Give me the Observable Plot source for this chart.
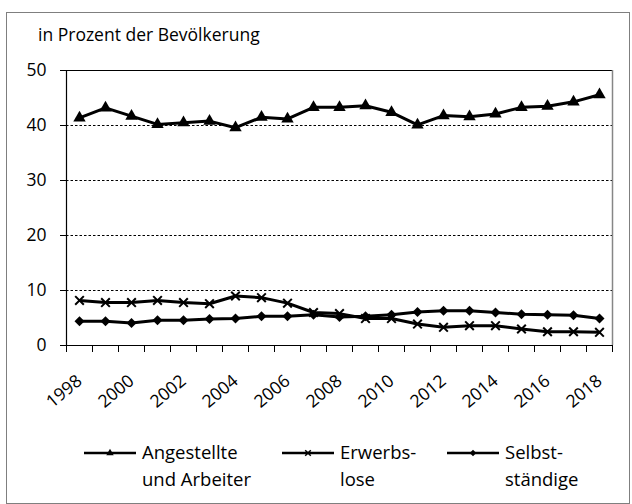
<!DOCTYPE html>
<html><head><meta charset="utf-8">
<script src="https://cdn.jsdelivr.net/npm/d3@7"></script>
<script src="https://cdn.jsdelivr.net/npm/@observablehq/plot@0.6"></script>
<style>
body{margin:0;background:#fff;}
#wrap{position:relative;width:632px;height:504px;overflow:hidden;font-family:"Open Sans",sans-serif;color:#000;}
#frame{position:absolute;left:6px;top:12px;width:624px;height:492px;border:1px solid #7f7f7f;box-sizing:border-box;}
#title{position:absolute;left:38px;top:26px;font-size:17.5px;line-height:1;white-space:nowrap;}
#chart{position:absolute;left:0;top:0;}
.leg{position:absolute;top:438px;font-size:18.5px;line-height:27px;white-space:nowrap;}
.legsym{position:absolute;top:438px;}
</style></head>
<body>
<div id="wrap">
  <div id="frame"></div>
  <div id="title"></div>
  <div id="chart"></div>
</div>
<script>
const title = "in Prozent der Bevölkerung";
const years = [1998,1999,2000,2001,2002,2003,2004,2005,2006,2007,2008,2009,2010,2011,2012,2013,2014,2015,2016,2017,2018];
const labelYears = [1998,2000,2002,2004,2006,2008,2010,2012,2014,2016,2018];
const yTicks = [0,10,20,30,40,50];
const gridValues = [10,20,30,40];
const seriesNames = ["Angestellte und Arbeiter","Erwerbslose","Selbstständige"];
const legendLabels = [["Angestellte","und Arbeiter"],["Erwerbs-","lose"],["Selbst-","ständige"]];
const angestellte = [41.4,43.2,41.7,40.2,40.5,40.8,39.6,41.5,41.2,43.3,43.3,43.6,42.4,40.1,41.8,41.6,42.1,43.3,43.5,44.3,45.6];
const erwerbslose = [8.2,7.8,7.8,8.2,7.8,7.6,9.0,8.7,7.7,6.0,5.8,4.9,4.9,3.9,3.3,3.6,3.6,3.0,2.5,2.5,2.4];
const selbststaendige = [4.4,4.4,4.1,4.6,4.6,4.8,4.9,5.3,5.3,5.6,5.2,5.3,5.6,6.1,6.3,6.3,6.0,5.7,5.6,5.5,4.9];

const seriesValues = [angestellte, erwerbslose, selbststaendige];
const data = seriesNames.flatMap((s, k) => years.map((y, i) => ({year: y, value: seriesValues[k][i], series: s})));
const bySeries = k => data.filter(d => d.series === seriesNames[k]);
const edges = [years[0] - 0.5, ...years.map(y => y + 0.5)];

document.getElementById("title").textContent = title;

const fs = 17.5;
const chart = Plot.plot({
  width: 632, height: 420,
  marginLeft: 66, marginRight: 20, marginTop: 70, marginBottom: 75,
  x: {type: "linear", domain: [edges[0], edges[edges.length - 1]], label: null},
  y: {domain: [0, 50], label: null},
  style: {fontFamily: "'Open Sans', sans-serif", fontSize: fs + "px", color: "#000", background: "transparent", overflow: "visible"},
  marks: [
    Plot.ruleY(gridValues, {stroke: "#000", strokeDasharray: "2.5,2", strokeWidth: 1}),
    Plot.ruleY([50], {stroke: "#000", strokeWidth: 1}),
    Plot.ruleX([edges[edges.length - 1]], {y1: 0, y2: 50, stroke: "#868686", strokeWidth: 1.5}),
    Plot.ruleX([edges[0]], {y1: 0, y2: 50, stroke: "#000", strokeWidth: 1.2}),
    Plot.ruleY([0], {stroke: "#000", strokeWidth: 1.2}),
    Plot.axisY({ticks: yTicks, tickSize: 6, tickPadding: 14, fontSize: fs, label: null, tickFormat: d => String(d)}),
    Plot.axisX({ticks: edges, tickSize: 7, label: null, tickFormat: () => ""}),
    Plot.axisX({ticks: labelYears, tickSize: 0, tickRotate: -40, tickPadding: 33, fontSize: fs, label: null, tickFormat: d => String(d)}),
    Plot.line(data, {x: "year", y: "value", z: "series", stroke: "#000", strokeWidth: 3}),
    Plot.dot(bySeries(0), {x: "year", y: "value", symbol: "triangle", r: 4.6, fill: "#000", stroke: "none"}),
    Plot.dot(bySeries(2), {x: "year", y: "value", symbol: "diamond2", r: 4.5, fill: "#000", stroke: "none"}),
    Plot.dot(bySeries(1), {x: "year", y: "value", symbol: "times", r: 4, stroke: "#000", strokeWidth: 2, fill: "none"})
  ]
});
document.getElementById("chart").appendChild(chart);

// Legend
const legendLeft = [84, 282, 447];
const legendSymbols = [
  {type: d3.symbolTriangle, size: 24, fill: true},
  {type: d3.symbolTimes, size: 22, fill: false},
  {type: d3.symbolDiamond2, size: 28, fill: true}
];
const wrap = document.getElementById("wrap");
legendLabels.forEach((lines, k) => {
  const svg = d3.create("svg").attr("class", "legsym").attr("width", 52).attr("height", 27)
    .style("left", legendLeft[k] + "px");
  svg.append("line").attr("x1", 0).attr("x2", 52).attr("y1", 15).attr("y2", 15)
    .attr("stroke", "#000").attr("stroke-width", 2.5);
  const s = legendSymbols[k];
  svg.append("path").attr("transform", "translate(26,15)")
    .attr("d", d3.symbol(s.type, s.size)())
    .attr("fill", s.fill ? "#000" : "none")
    .attr("stroke", s.fill ? "none" : "#000").attr("stroke-width", 1.5);
  wrap.appendChild(svg.node());
  const div = document.createElement("div");
  div.className = "leg";
  div.style.left = (legendLeft[k] + 58) + "px";
  div.innerHTML = lines.map(l => `<div>${l}</div>`).join("");
  wrap.appendChild(div);
});
</script>
</body></html>
